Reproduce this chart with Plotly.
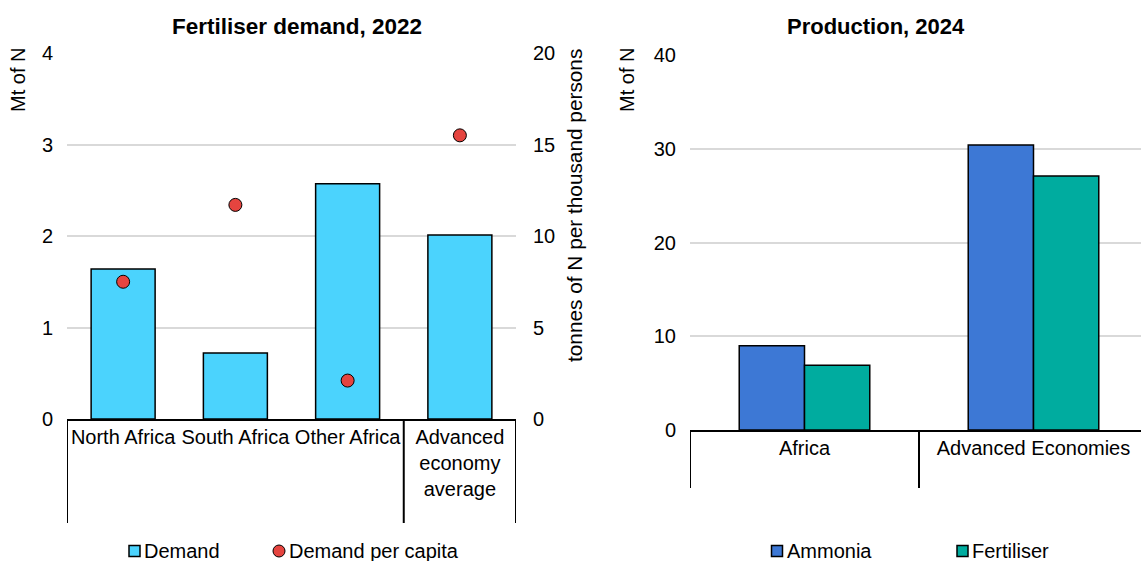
import plotly.graph_objects as go

# Canvas size in pixels
W, H = 1141, 561

# Left panel: fertiliser demand by region, 2022
regions = ["North Africa", "South Africa", "Other Africa", "Advanced economy average"]
region_labels = ["North Africa", "South Africa", "Other Africa", "Advanced<br>economy<br>average"]
region_group_sizes = [3, 1]                 # Africa regions | advanced economies
demand_mt = [1.64, 0.72, 2.57, 2.01]        # Mt of N
demand_per_capita = [7.5, 11.7, 2.1, 15.5]  # tonnes of N per thousand persons

# Right panel: production, 2024
producers = ["Africa", "Advanced Economies"]
ammonia_mt = [9.0, 30.4]
fertiliser_mt = [6.9, 27.1]

FONT = "Liberation Sans, Arial, sans-serif"
TEXT = 20
GRID = "#d9d9d9"


def fx(px):
    return px / W


def fy(py):
    return 1 - py / H


fig = go.Figure()

fig.add_trace(go.Bar(
    x=regions, y=demand_mt, name="Demand",
    marker=dict(color="#4BD3FD", line=dict(color="black", width=1.5)),
    xaxis="x", yaxis="y",
))
fig.add_trace(go.Scatter(
    x=regions, y=demand_per_capita, name="Demand per capita", mode="markers",
    marker=dict(color="#E5443F", size=13, line=dict(color="black", width=1)),
    xaxis="x", yaxis="y2",
))
fig.add_trace(go.Bar(
    x=producers, y=ammonia_mt, name="Ammonia",
    marker=dict(color="#3D78D5", line=dict(color="black", width=1.5)),
    xaxis="x2", yaxis="y3",
))
fig.add_trace(go.Bar(
    x=producers, y=fertiliser_mt, name="Fertiliser",
    marker=dict(color="#00AC9F", line=dict(color="black", width=1.5)),
    xaxis="x2", yaxis="y3",
))

left_x = [67, 516]
left_y = [53, 419]
right_x = [690, 1141]
right_y = [55, 430]
right_cat_px = 229  # width of one category on the right panel

tick_font = dict(family=FONT, size=TEXT, color="black")

fig.update_layout(
    width=W, height=H, autosize=False,
    margin=dict(l=0, r=0, t=0, b=0, pad=0, autoexpand=False),
    paper_bgcolor="white", plot_bgcolor="white",
    showlegend=False,
    barmode="group", bargap=0.43, bargroupgap=0,
    font=dict(family=FONT, size=TEXT, color="black"),
    xaxis=dict(
        domain=[fx(left_x[0]), fx(left_x[1])], anchor="y", automargin=False,
        type="category", range=[-0.5, len(regions) - 0.5],
        tickmode="array", tickvals=regions, ticktext=region_labels,
        showline=True, linecolor="black", linewidth=2,
        showgrid=False, ticks="", tickfont=tick_font, ticklabelstandoff=-1,
    ),
    yaxis=dict(
        domain=[fy(left_y[1]), fy(left_y[0])], anchor="x", automargin=False,
        range=[0, 4], dtick=1, showline=False, zeroline=False,
        showgrid=True, gridcolor=GRID, gridwidth=2,
        ticks="", tickfont=tick_font, ticklabelstandoff=13,
    ),
    yaxis2=dict(
        overlaying="y", side="right", anchor="x", automargin=False,
        range=[0, 20], dtick=5, showline=False, zeroline=False, showgrid=False,
        ticks="", tickfont=tick_font, ticklabelstandoff=16,
    ),
    xaxis2=dict(
        domain=[fx(right_x[0]), fx(right_x[1])], anchor="y3", automargin=False,
        type="category",
        range=[-0.5, -0.5 + (right_x[1] - right_x[0]) / right_cat_px],
        showline=True, linecolor="black", linewidth=2,
        showgrid=False, ticks="", tickfont=tick_font, ticklabelstandoff=-1,
    ),
    yaxis3=dict(
        domain=[fy(right_y[1]), fy(right_y[0])], anchor="x2", automargin=False,
        range=[0, 40], dtick=10, showline=False, zeroline=False,
        showgrid=True, gridcolor=GRID, gridwidth=2,
        ticks="", tickfont=tick_font, ticklabelstandoff=13,
    ),
)

# Category dividers below each horizontal axis
shapes = []
bounds = [-0.5]
for n in region_group_sizes:
    bounds.append(bounds[-1] + n)
for b in bounds:
    shapes.append(dict(type="line", xref="x", yref="paper", x0=b, x1=b,
                       y0=fy(left_y[1]), y1=fy(523),
                       line=dict(color="black", width=2)))
for b in [i - 0.5 for i in range(len(producers) + 1)]:
    shapes.append(dict(type="line", xref="x2", yref="paper", x0=b, x1=b,
                       y0=fy(right_y[1]), y1=fy(488),
                       line=dict(color="black", width=2)))

# Legend keys
LEG_Y = 551
def square(cx, color):
    return dict(type="rect", xref="paper", yref="paper",
                x0=fx(cx - 5.5), x1=fx(cx + 5.5), y0=fy(LEG_Y + 5.5), y1=fy(LEG_Y - 5.5),
                fillcolor=color, line=dict(color="black", width=1.5))

shapes.append(square(134.5, "#4BD3FD"))
shapes.append(dict(type="circle", xref="paper", yref="paper",
                   x0=fx(273), x1=fx(285), y0=fy(LEG_Y + 6), y1=fy(LEG_Y - 6),
                   fillcolor="#E5443F", line=dict(color="black", width=1)))
shapes.append(square(777, "#3D78D5"))
shapes.append(square(962.5, "#00AC9F"))
fig.update_layout(shapes=shapes)

annotations = []


def text(x, y, s, **kw):
    d = dict(xref="paper", yref="paper", x=fx(x), y=fy(y), text=s,
             showarrow=False, font=dict(family=FONT, size=TEXT, color="black"))
    d.update(kw)
    annotations.append(d)


# Panel titles
text(297, 27, "<b>Fertiliser demand, 2022</b>", xanchor="center", yanchor="middle",
     font=dict(family=FONT, size=22.5, color="black"))
text(876, 26, "<b>Production, 2024</b>", xanchor="center", yanchor="middle",
     font=dict(family=FONT, size=22, color="black"))

# Axis titles
text(18, 80, "Mt of N", textangle=-90, xanchor="center", yanchor="middle")
text(574, 206, "tonnes of N per thousand persons", textangle=-90,
     xanchor="center", yanchor="middle", font=dict(family=FONT, size=20.8, color="black"))
text(627, 80, "Mt of N", textangle=-90, xanchor="center", yanchor="middle")

# Legend labels
text(142, LEG_Y, "Demand", xanchor="left", yanchor="middle")
text(287, LEG_Y, "Demand per capita", xanchor="left", yanchor="middle")
text(785, LEG_Y, "Ammonia", xanchor="left", yanchor="middle")
text(970, LEG_Y, "Fertiliser", xanchor="left", yanchor="middle")

fig.update_layout(annotations=annotations)

fig.write_html("out.html")
